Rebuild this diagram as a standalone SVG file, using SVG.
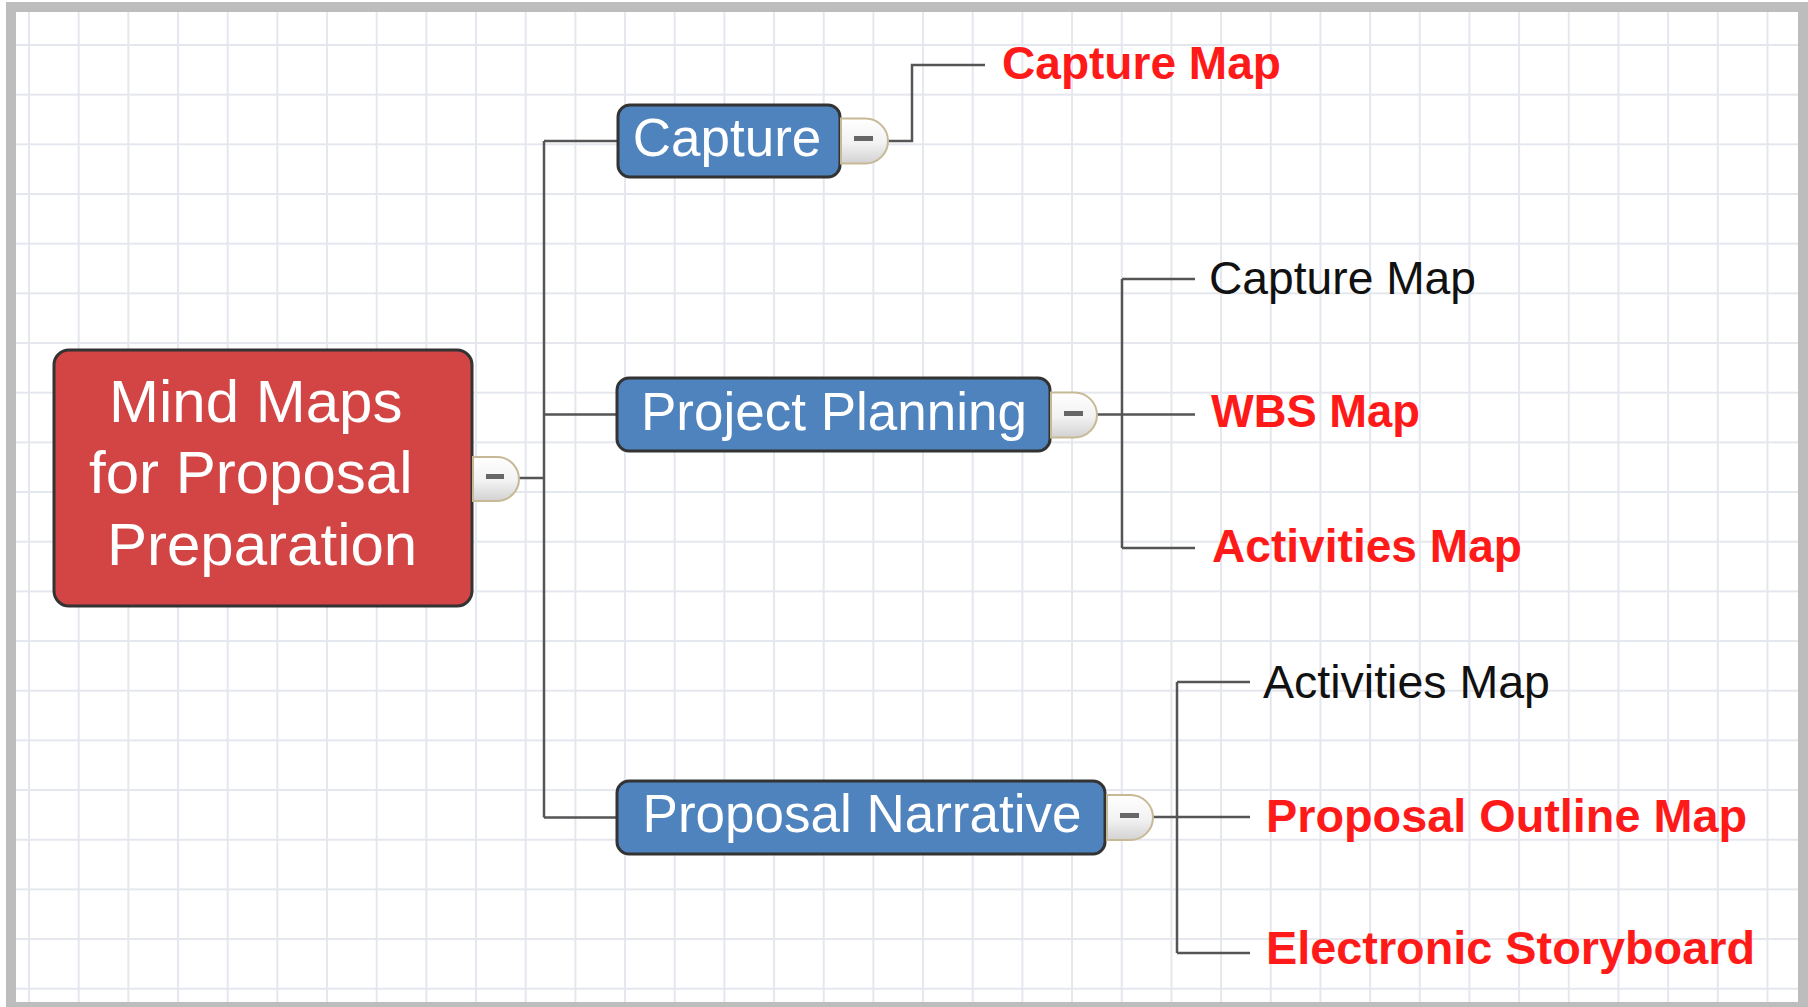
<svg xmlns="http://www.w3.org/2000/svg" width="1808" height="1007" viewBox="0 0 1808 1007">
<defs>
<pattern id="grid" patternUnits="userSpaceOnUse" x="4.165" y="20.165" width="49.67" height="49.67">
<path d="M24.835,0 V49.67 M0,24.835 H49.67" stroke="#e5e7ee" stroke-width="2" fill="none"/>
</pattern>
<linearGradient id="tabg" x1="0" y1="0" x2="0" y2="1">
<stop offset="0" stop-color="#ffffff"/>
<stop offset="0.55" stop-color="#f2f2f2"/>
<stop offset="1" stop-color="#d2d2d2"/>
</linearGradient>
<style>
.root{fill:#d34545;stroke:#333;stroke-width:3}
.topic{fill:#4f83bd;stroke:#333;stroke-width:3}
.tab{fill:url(#tabg);stroke:#c8b996;stroke-width:2}
.minus{fill:#666}
.conn{fill:none;stroke:#555;stroke-width:2.5}
.wt{fill:#fff;font-family:"Liberation Sans",Arial,sans-serif}
.sub{font-family:"Liberation Sans",Arial,sans-serif;font-size:46px}
.red{fill:#ff1a1a;font-weight:bold}
.blk{fill:#111}
</style>
</defs>
<rect x="0" y="0" width="1808" height="1007" fill="#fff"/>
<rect x="16" y="12" width="1782" height="990" fill="url(#grid)"/>
<rect x="11" y="7" width="1792" height="1000" fill="none" stroke="#bdbdbd" stroke-width="10"/>

<g id="connectors">
<path class="conn" d="M519,478 H544 M544,141 V817.5 M544,141 H618 M544,414.5 H617 M544,817.5 H617"/>
<path class="conn" d="M888,141 H912 V65 H985"/>
<path class="conn" d="M1097,414.5 H1122 M1122,279 V548 M1122,279 H1195 M1122,414.5 H1195 M1122,548 H1195"/>
<path class="conn" d="M1153,817 H1177 M1177,682 V953 M1177,682 H1250 M1177,817 H1250 M1177,953 H1250"/>
</g>

<g id="root">
<rect class="root" x="54" y="350" width="418" height="256" rx="15"/>
<text class="wt" font-size="60" x="109" y="422">Mind Maps</text>
<text class="wt" font-size="60" x="89" y="493">for Proposal</text>
<text class="wt" font-size="60" x="107" y="565">Preparation</text>
<path class="tab" d="M473,457 H497 A22,22 0 0 1 519,479 A22,22 0 0 1 497,501 H473 Z"/>
<rect class="minus" x="486" y="474" width="18" height="5"/>
</g>

<g id="capture">
<rect class="topic" x="618" y="105" width="222" height="72" rx="12"/>
<text class="wt" font-size="53" x="727" y="156" text-anchor="middle">Capture</text>
<path class="tab" d="M841,118.5 H865.5 A22.5,22.5 0 0 1 888,141 A22.5,22.5 0 0 1 865.5,163.5 H841 Z"/>
<rect class="minus" x="854" y="136" width="19" height="5"/>
</g>

<g id="project-planning">
<rect class="topic" x="617" y="378" width="433" height="73" rx="12"/>
<text class="wt" font-size="53" x="834" y="430" text-anchor="middle">Project Planning</text>
<path class="tab" d="M1051,392.5 H1074.5 A22.5,22.5 0 0 1 1097,415 A22.5,22.5 0 0 1 1074.5,437.5 H1051 Z"/>
<rect class="minus" x="1064" y="411" width="19" height="5"/>
</g>

<g id="proposal-narrative">
<rect class="topic" x="617" y="781" width="488" height="73" rx="12"/>
<text class="wt" font-size="53" x="862" y="832" text-anchor="middle">Proposal Narrative</text>
<path class="tab" d="M1107,795 H1130.5 A22.5,22.5 0 0 1 1153,817.5 A22.5,22.5 0 0 1 1130.5,840 H1107 Z"/>
<rect class="minus" x="1120" y="813" width="19" height="5"/>
</g>

<g id="capture-map-1">
<text class="sub red" x="1002" y="79" textLength="279" lengthAdjust="spacingAndGlyphs">Capture Map</text>
</g>
<g id="capture-map-2">
<text class="sub blk" x="1209" y="294" textLength="267" lengthAdjust="spacingAndGlyphs">Capture Map</text>
</g>
<g id="wbs-map">
<text class="sub red" x="1211" y="427" textLength="209" lengthAdjust="spacingAndGlyphs">WBS Map</text>
</g>
<g id="activities-map-1">
<text class="sub red" x="1212" y="562" textLength="310" lengthAdjust="spacingAndGlyphs">Activities Map</text>
</g>
<g id="activities-map-2">
<text class="sub blk" x="1263" y="698" textLength="287" lengthAdjust="spacingAndGlyphs">Activities Map</text>
</g>
<g id="proposal-outline-map">
<text class="sub red" x="1266" y="832" textLength="481" lengthAdjust="spacingAndGlyphs">Proposal Outline Map</text>
</g>
<g id="electronic-storyboard">
<text class="sub red" x="1266" y="964" textLength="489" lengthAdjust="spacingAndGlyphs">Electronic Storyboard</text>
</g>
</svg>
